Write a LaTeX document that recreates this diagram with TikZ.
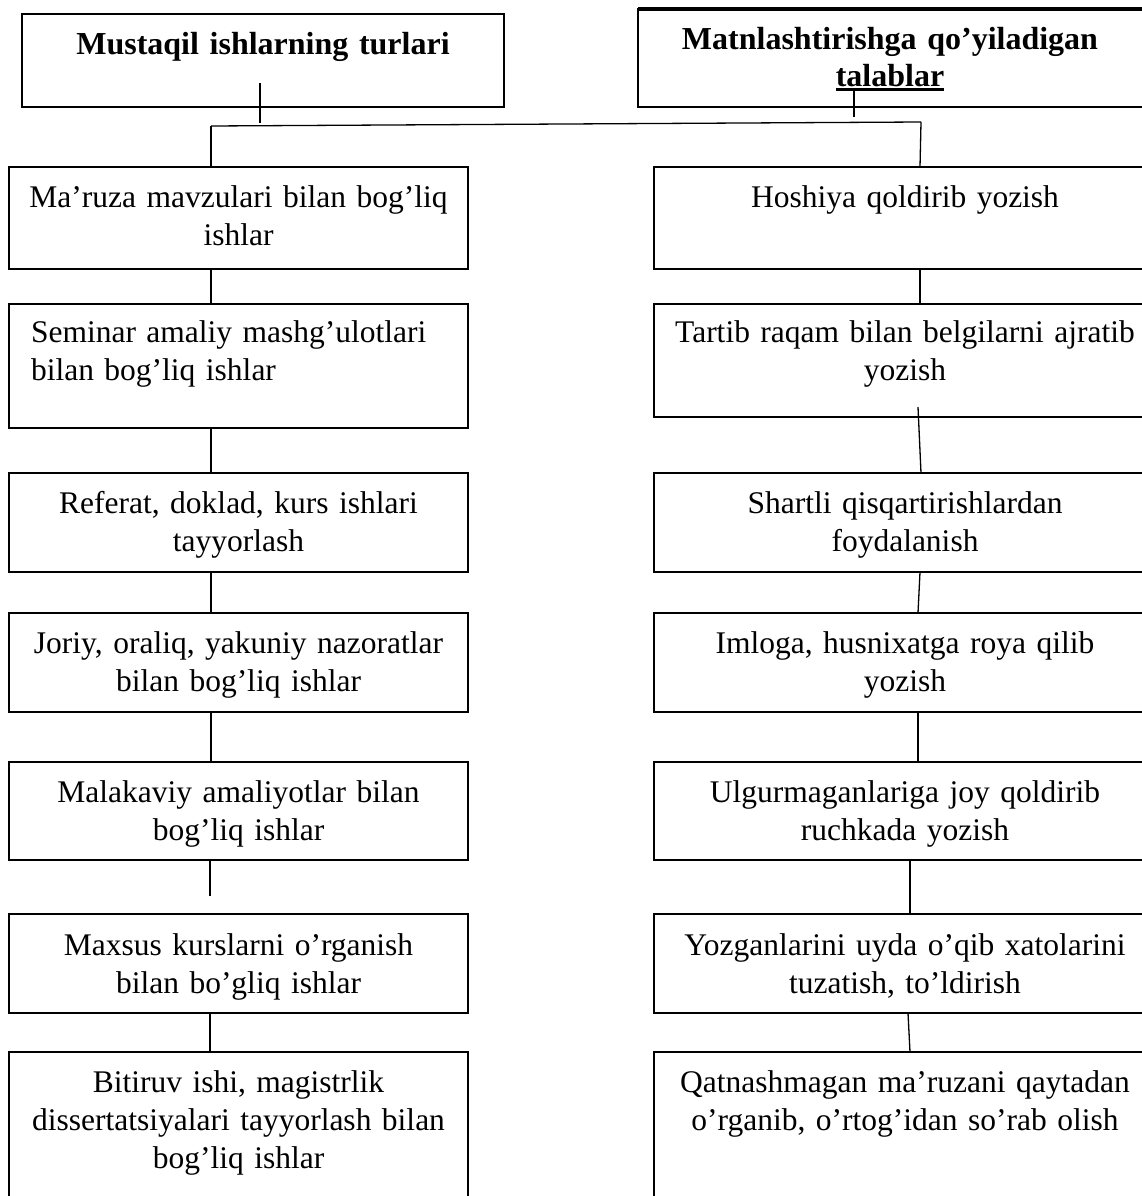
\documentclass[tikz,border=0pt]{standalone}
\usepackage{fontspec}
\setmainfont{Liberation Serif}
\newcommand\thickul[1]{\leavevmode\setbox0\hbox{#1}\rlap{\rule[-4.5pt]{\wd0}{3pt}}\box0}
\begin{document}
\begin{tikzpicture}[x=1pt,y=-1pt,
  box/.style={draw,line width=2pt,inner sep=0pt,outer sep=0pt,anchor=north west,rectangle},
  txt/.style={inner sep=0pt,outer sep=0pt,text width=500pt,align=center,anchor=base,font=\fontsize{31.5}{38}\selectfont},
  ltxt/.style={txt,text width=430pt,align=left,anchor=base west},
  link/.style={line width=1.3pt}]
\useasboundingbox (0,0) rectangle (1142,1196);
\clip (0,0) rectangle (1142,1196);
% titles
\node[box,minimum width=482pt,minimum height=93pt] (T1) at (22,14) {};
\node[box,minimum width=520pt,minimum height=98pt] (T2) at (638,9) {};
\draw[line width=4pt] (T2.north west) -- (T2.north east);
\node[txt,font=\fontsize{32}{38}\selectfont\bfseries] (T1t) at (263,55) {Mustaqil ishlarning turlari};
\node[txt,font=\fontsize{32}{37}\selectfont\bfseries] (T2t) at (890,50) {Matnlashtirishga qo’yiladigan\\\thickul{talablar}};
% left boxes
\node[box,minimum width=459pt,minimum height=102pt] (L1) at (9,167) {};
\node[box,minimum width=459pt,minimum height=124pt] (L2) at (9,304) {};
\node[box,minimum width=459pt,minimum height=99pt] (L3) at (9,473) {};
\node[box,minimum width=459pt,minimum height=99pt] (L4) at (9,613) {};
\node[box,minimum width=459pt,minimum height=98pt] (L5) at (9,762) {};
\node[box,minimum width=459pt,minimum height=99pt] (L6) at (9,914) {};
\node[box,minimum width=459pt,minimum height=170pt] (L7) at (9,1052) {};
% right boxes
\node[box,minimum width=506pt,minimum height=102pt] (R1) at (654,167) {};
\node[box,minimum width=506pt,minimum height=113pt] (R2) at (654,304) {};
\node[box,minimum width=506pt,minimum height=99pt] (R3) at (654,473) {};
\node[box,minimum width=506pt,minimum height=99pt] (R4) at (654,613) {};
\node[box,minimum width=506pt,minimum height=98pt] (R5) at (654,762) {};
\node[box,minimum width=506pt,minimum height=99pt] (R6) at (654,914) {};
\node[box,minimum width=506pt,minimum height=170pt] (R7) at (654,1052) {};
% texts left
\node[txt] (L1t) at (238.5,207) {Ma’ruza mavzulari bilan bog’liq\\ishlar};
\node[ltxt] (L2t) at (31,342) {Seminar amaliy mashg’ulotlari\\bilan bog’liq ishlar};
\node[txt] (L3t) at (238.5,513) {Referat, doklad, kurs ishlari\\tayyorlash};
\node[txt] (L4t) at (238.5,653) {Joriy, oraliq, yakuniy nazoratlar\\bilan bog’liq ishlar};
\node[txt] (L5t) at (238.5,802) {Malakaviy amaliyotlar bilan\\bog’liq ishlar};
\node[txt] (L6t) at (238.5,955) {Maxsus kurslarni o’rganish\\bilan bo’gliq ishlar};
\node[txt] (L7t) at (238.5,1092) {Bitiruv ishi, magistrlik\\dissertatsiyalari tayyorlash bilan\\bog’liq ishlar};
% texts right
\node[txt] (R1t) at (905,207) {Hoshiya qoldirib yozish};
\node[txt] (R2t) at (905,342) {Tartib raqam bilan belgilarni ajratib\\yozish};
\node[txt] (R3t) at (905,513) {Shartli qisqartirishlardan\\foydalanish};
\node[txt] (R4t) at (905,653) {Imloga, husnixatga roya qilib\\yozish};
\node[txt] (R5t) at (905,802) {Ulgurmaganlariga joy qoldirib\\ruchkada yozish};
\node[txt] (R6t) at (905,955) {Yozganlarini uyda o’qib xatolarini\\tuzatish, to’ldirish};
\node[txt] (R7t) at (905,1092) {Qatnashmagan ma’ruzani qaytadan\\o’rganib, o’rtog’idan so’rab olish};
% connector coordinates
\coordinate (a1) at (260,83);
\coordinate (a2) at (260,123);
\coordinate (b1) at (854,90);
\coordinate (b2) at (854,117);
\coordinate (h1) at (211,126);
\coordinate (h2) at (921,122);
\coordinate (cl) at (211,0);
\coordinate (cl2) at (210,0);
\coordinate (cr) at (920,0);
\coordinate (cr1) at (921,0);
\coordinate (cr2) at (918,0);
\coordinate (cr3) at (910,0);
\coordinate (cr4) at (908,0);
\coordinate (g1) at (210,896);
% connectors
\draw[link] (a1) -- (a2);
\draw[link] (b1) -- (b2);
\draw[link] (h1) -- (h2);
\draw[link] (h1) -- (h1 |- L1.north);
\draw[link] (h2) -- (cr |- R1.north);
\draw[link] (cl |- L1.south) -- (cl |- L2.north);
\draw[link] (cl |- L2.south) -- (cl |- L3.north);
\draw[link] (cl |- L3.south) -- (cl |- L4.north);
\draw[link] (cl |- L4.south) -- (cl |- L5.north);
\draw[link] (cl2 |- L5.south) -- (g1);
\draw[link] (cl2 |- L6.south) -- (cl2 |- L7.north);
\draw[link] (cr |- R1.south) -- (cr |- R2.north);
\draw[link] ([yshift=10pt]cr2 |- R2.south) -- (cr1 |- R3.north);
\draw[link] (cr |- R3.south) -- (cr2 |- R4.north);
\draw[link] (cr2 |- R4.south) -- (cr2 |- R5.north);
\draw[link] (cr3 |- R5.south) -- (cr3 |- R6.north);
\draw[link] (cr4 |- R6.south) -- (cr3 |- R7.north);
\end{tikzpicture}
\end{document}
